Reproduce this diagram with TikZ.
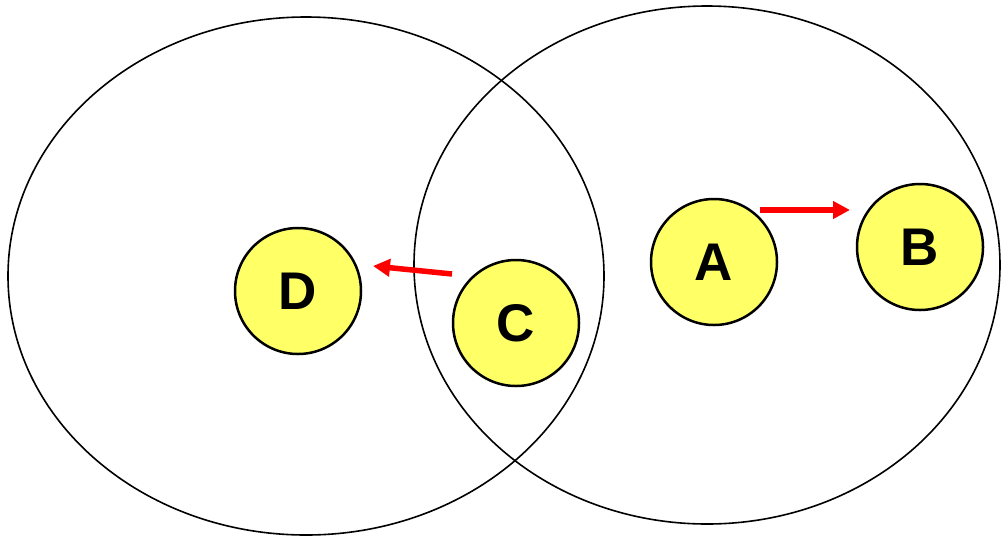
\documentclass[tikz,border=0pt]{standalone}
\usepackage{fontspec}
\setmainfont{Liberation Sans}
\usetikzlibrary{arrows.meta}
\definecolor{ball}{HTML}{FFFF66}
\tikzset{
  ball/.style={circle, draw=black, line width=2.5pt, fill=ball, minimum size=126pt, inner sep=0pt, font=\fontsize{53}{53}\selectfont\bfseries},
  ring/.style={draw=black, line width=1.6pt},
  link/.style={draw=red, line width=5.5pt, -{Triangle[length=17pt, width=17pt]}}
}
\begin{document}
\begin{tikzpicture}[x=1pt, y=-1pt]
\useasboundingbox (0,0) rectangle (1001,539);
\draw[ring] (306,276) ellipse [x radius=298, y radius=259];
\draw[ring] (707,265) ellipse [x radius=293, y radius=259];
\node[ball] (D) at (298,291) {D};
\node[ball] (C) at (516,323) {C};
\node[ball] (A) at (714,262) {A};
\node[ball] (B) at (920,247) {B};
\coordinate (c1) at (452,274);
\coordinate (d1) at (373,266);
\coordinate (a1) at (760,210);
\coordinate (b1) at (850,210);
\draw[link] (c1) -- (d1);
\draw[link] (a1) -- (b1);
\end{tikzpicture}
\end{document}
